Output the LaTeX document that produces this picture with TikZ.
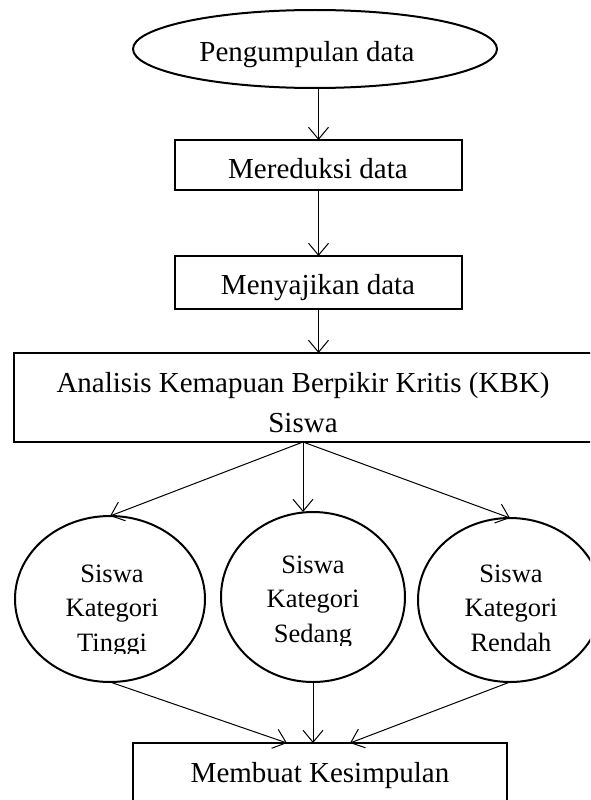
\documentclass[tikz,border=0pt]{standalone}
\usepackage{fontspec}
\setmainfont{Liberation Serif}
\usetikzlibrary{arrows.meta,shapes.geometric}
\begin{document}
\begin{tikzpicture}[x=1pt,y=-1pt,
  shapeline/.style={draw=black,line width=2pt,inner sep=0pt,outer sep=0pt},
  boxnode/.style={shapeline,rectangle},
  ovalnode/.style={shapeline,ellipse},
  txt/.style={anchor=base,inner sep=0pt,font=\fontsize{29}{40}\selectfont},
  ctxt/.style={anchor=base,inner sep=0pt,font=\fontsize{26.5}{34.5}\selectfont},
  conn/.style={draw=black,line width=1pt,-{Straight Barb[length=12pt,width=20pt]}}]
\useasboundingbox (0,0) rectangle (590,800);
\clip (0,0) rectangle (590,800);
% shapes
\node[ovalnode,minimum width=364pt,minimum height=78pt] (e) at (315,49) {};
\node[boxnode,minimum width=287pt,minimum height=50pt] (b1) at (318.5,165) {};
\node[boxnode,minimum width=287pt,minimum height=53pt] (b2) at (318.5,282.5) {};
\node[boxnode,minimum width=578pt,minimum height=89pt] (b3) at (303,397.5) {};
\node[ovalnode,minimum width=190pt,minimum height=166pt] (c1) at (110,599) {};
\node[ovalnode,minimum width=184pt,minimum height=170pt] (c2) at (313,597) {};
\node[ovalnode,minimum width=184pt,minimum height=164pt] (c3) at (510,600) {};
\node[boxnode,minimum width=374pt,minimum height=72pt] (b4) at (320,779) {};
% texts
\node[txt] (t0) at (307,62) {Pengumpulan data};
\node[txt] (t1) at (318,178) {Mereduksi data};
\node[txt] (t2) at (318,294) {Menyajikan data};
\node[txt] (t3) at (303,392) {\begin{tabular}[t]{@{}c@{}}Analisis Kemapuan Berpikir Kritis (KBK)\\ Siswa\end{tabular}};
\node[txt] (t7) at (320,782) {Membuat Kesimpulan};
\begin{scope}
  \clip (0,0) rectangle (590,653);
  \node[ctxt] (t4) at (112,582) {\begin{tabular}[t]{@{}c@{}}Siswa\\ Kategori\\ Tinggi\end{tabular}};
  \node[ctxt] (t6) at (511,582) {\begin{tabular}[t]{@{}c@{}}Siswa\\ Kategori\\ Rendah\end{tabular}};
\end{scope}
\begin{scope}
  \clip (0,0) rectangle (590,645);
  \node[ctxt] (t5) at (313,573) {\begin{tabular}[t]{@{}c@{}}Siswa\\ Kategori\\ Sedang\end{tabular}};
\end{scope}
% connectors
\draw[conn] (e.south -| b1.north) -- (b1.north);
\draw[conn] (b1.south) -- (b2.north);
\draw[conn] (b2.south) -- (b2.south |- b3.north);
\draw[conn] (b3.south) -- (c1.north);
\draw[conn] (b3.south) -- (b3.south |- c2.north);
\draw[conn] (b3.south) -- (c3.north);
\draw[conn] (c1.south) -- ([xshift=-33pt]b4.north);
\draw[conn] (c2.south) -- (c2.south |- b4.north);
\draw[conn] (c3.south) -- ([xshift=30pt]b4.north);
\end{tikzpicture}
\end{document}
